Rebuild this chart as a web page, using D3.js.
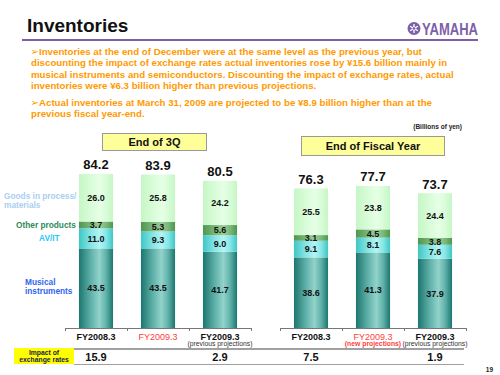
<!DOCTYPE html>
<html>
<head>
<meta charset="utf-8">
<script src="https://cdn.jsdelivr.net/npm/d3@7"></script>
<style>
  body { margin: 0; background: #fff; }
  svg { display: block; font-family: "Liberation Sans", Arial, sans-serif; }
</style>
</head>
<body>
<div id="chart"></div>
<script>
// ---- data ----
const categories = ["FY2008.3", "FY2009.3", "FY2009.3"]
const subLabels3Q = ["", "", "(previous projections)"]
const subLabelsFY = ["", "(new projections)", "(previous projections)"]
const labelRed = [false, true, false]

const musical3Q = [43.5, 43.5, 41.7]
const avit3Q = [11.0, 9.3, 9.0]
const other3Q = [3.7, 5.3, 5.6]
const goods3Q = [26.0, 25.8, 24.2]
const totals3Q = [84.2, 83.9, 80.5]

const musicalFY = [38.6, 41.3, 37.9]
const avitFY = [9.1, 8.1, 7.6]
const otherFY = [3.1, 4.5, 3.8]
const goodsFY = [25.5, 23.8, 24.4]
const totalsFY = [76.3, 77.7, 73.7]

const impact3Q = [15.9, null, 2.9]
const impactFY = [7.5, null, 1.9]

const seriesKeys = ["musical", "avit", "other", "goods"]

const para1 = [
  "Inventories at the end of December were at the same level as the previous year, but",
  "discounting the impact of exchange rates actual inventories rose by \u00a515.6 billion mainly in",
  "musical instruments and semiconductors. Discounting the impact of exchange rates, actual",
  "inventories were \u00a56.3 billion higher than previous projections."
]
const para2 = [
  "Actual inventories at March 31, 2009 are projected to be \u00a58.9 billion higher than at the",
  "previous fiscal year-end."
]

const width = 500
const height = 375

const svg = d3.select("#chart")
  .append("svg")
    .attr("width", width)
    .attr("height", height)

// gradients for the cylinder look
const defs = svg.append("defs")
const gradStops = {
  musical: ["#1c766f", "#5fb1a9", "#92d3cb", "#5fb1a9", "#1c766f"],
  avit: ["#3fc6c6", "#86e6e6", "#b2f4f4", "#86e6e6", "#3fc6c6"],
  other: ["#4f9650", "#79b879", "#9acd98", "#79b879", "#4f9650"],
  goods: ["#c6f6c6", "#d8fcd8", "#e6ffe6", "#d8fcd8", "#c6f6c6"],
}
Object.entries(gradStops).forEach(([key, cols]) => {
  const g = defs.append("linearGradient")
    .attr("id", "grad-" + key)
    .attr("x1", "0%").attr("x2", "100%")
    .attr("y1", "0%").attr("y2", "0%")
  const offs = [0, 0.35, 0.6, 0.8, 1]
  cols.forEach((c, i) => {
    g.append("stop").attr("offset", offs[i]).attr("stop-color", c)
  })
})

// ---- header ----
svg.append("text")
  .attr("x", 27)
  .attr("y", 32)
  .attr("font-size", 19)
  .attr("font-weight", "bold")
  .attr("fill", "#111")
  .text("Inventories")

svg.append("line")
  .attr("x1", 22).attr("x2", 478)
  .attr("y1", 40).attr("y2", 40)
  .attr("stroke", "#7d5fa8")
  .attr("stroke-width", 2)

// yamaha logo
const logo = svg.append("g").attr("transform", "translate(414, 28.5)")
logo.append("circle").attr("r", 6.5).attr("fill", "#7d5fa8")
d3.range(3).forEach(i => {
  logo.append("line")
    .attr("x1", 0).attr("y1", -4.5).attr("x2", 0).attr("y2", 4.5)
    .attr("stroke", "#fff").attr("stroke-width", 1.3)
    .attr("transform", `rotate(${i * 60})`)
})
logo.append("circle").attr("r", 1.8).attr("fill", "#7d5fa8").attr("stroke", "#fff").attr("stroke-width", 0.8)
svg.append("text")
  .attr("x", 422)
  .attr("y", 35)
  .attr("font-size", 16)
  .attr("font-weight", "bold")
  .attr("fill", "#7d5fa8")
  .attr("textLength", 56)
  .attr("lengthAdjust", "spacingAndGlyphs")
  .text("YAMAHA")

// ---- bullets ----
const orange = "#ff9a00"
const drawPara = (lines, y0) => {
  lines.forEach((line, i) => {
    svg.append("text")
      .attr("x", i === 0 ? 39 : 31)
      .attr("y", y0 + i * 11.5)
      .attr("font-size", 9.7)
      .attr("font-weight", "bold")
      .attr("fill", orange)
      .text(line)
  })
  svg.append("text")
    .attr("x", 30.5)
    .attr("y", y0 + 0.5)
    .attr("font-size", 10)
    .attr("font-family", "DejaVu Sans")
    .attr("fill", orange)
    .text("\u27a2")
}
drawPara(para1, 54.5)
drawPara(para2, 105.5)

svg.append("text")
  .attr("x", 462)
  .attr("y", 129)
  .attr("text-anchor", "end")
  .attr("font-size", 6.5)
  .attr("font-weight", "bold")
  .attr("fill", "#222")
  .text("(Billions of yen)")

// ---- shared y scale ----
const yScale = d3.scaleLinear()
  .domain([0, 90])
  .range([328, 328 - 90 * 1.829])

const drawPanel = (opts) => {
  const { x0, x1, data, totals, subs, title, box } = opts
  const xScale = d3.scaleBand()
    .domain(d3.range(3))
    .range([x0, x1])
    .paddingInner(0.45)
    .paddingOuter(0.225)

  const stack = d3.stack().keys(seriesKeys)(data)
  const g = svg.append("g")

  stack.forEach(layer => {
    g.selectAll(null)
      .data(layer)
      .join("rect")
        .attr("x", (d, i) => xScale(i))
        .attr("width", xScale.bandwidth())
        .attr("y", d => yScale(d[1]))
        .attr("height", d => yScale(d[0]) - yScale(d[1]))
        .attr("fill", `url(#grad-${layer.key})`)
    g.selectAll(null)
      .data(layer)
      .join("text")
        .attr("x", (d, i) => xScale(i) + xScale.bandwidth() / 2)
        .attr("y", d => (yScale(d[0]) + yScale(d[1])) / 2 + 3.2)
        .attr("text-anchor", "middle")
        .attr("font-size", 9)
        .attr("font-weight", "bold")
        .attr("fill", "#111")
        .text(d => d.data[layer.key].toFixed(1))
  })

  g.selectAll(null)
    .data(totals)
    .join("text")
      .attr("x", (d, i) => xScale(i) + xScale.bandwidth() / 2)
      .attr("y", d => yScale(d) - 4.5)
      .attr("text-anchor", "middle")
      .attr("font-size", 13)
      .attr("font-weight", "bold")
      .attr("fill", "#111")
      .text(d => d.toFixed(1))

  // axis with ticks at band edges
  const edgeScale = d3.scaleLinear().domain([0, 3]).range([x0, x1])
  const axis = g.append("g")
    .attr("transform", "translate(0, 328)")
    .call(d3.axisBottom(edgeScale).tickValues([0, 1, 2, 3]).tickFormat("").tickSize(3).tickSizeOuter(3))
  axis.selectAll("path, line").attr("stroke", "#777")

  categories.forEach((c, i) => {
    const cx = xScale(i) + xScale.bandwidth() / 2
    g.append("text")
      .attr("x", cx)
      .attr("y", 339.5)
      .attr("text-anchor", "middle")
      .attr("font-size", 9)
      .attr("font-weight", labelRed[i] ? "normal" : "bold")
      .attr("fill", labelRed[i] ? "#ff4040" : "#111")
      .text(c)
    if (subs[i]) {
      g.append("text")
        .attr("x", cx)
        .attr("y", 346)
        .attr("text-anchor", "middle")
        .attr("font-size", 6.8)
        .attr("font-weight", labelRed[i] ? "bold" : "normal")
        .attr("fill", labelRed[i] ? "#ff4040" : "#333")
        .text(subs[i])
    }
  })

  // title box
  svg.append("rect")
    .attr("x", box[0]).attr("y", box[1])
    .attr("width", box[2]).attr("height", box[3])
    .attr("fill", "#ffff99")
    .attr("stroke", "#999")
    .attr("stroke-width", 1)
  svg.append("text")
    .attr("x", box[0] + box[2] / 2)
    .attr("y", box[1] + box[3] / 2 + 4)
    .attr("text-anchor", "middle")
    .attr("font-size", 11)
    .attr("font-weight", "bold")
    .attr("fill", "#111")
    .text(title)

  return xScale
}

const rows = (m, a, o, gd) => m.map((d, i) => ({ musical: d, avit: a[i], other: o[i], goods: gd[i] }))

const x3Q = drawPanel({
  x0: 65, x1: 251,
  data: rows(musical3Q, avit3Q, other3Q, goods3Q),
  totals: totals3Q,
  subs: subLabels3Q,
  title: "End of 3Q",
  box: [102.5, 133.5, 104, 17],
})
const xFY = drawPanel({
  x0: 280, x1: 466,
  data: rows(musicalFY, avitFY, otherFY, goodsFY),
  totals: totalsFY,
  subs: subLabelsFY,
  title: "End of Fiscal Year",
  box: [301.5, 136.5, 143, 19],
})

// ---- legend labels ----
const legend = [
  { lines: ["Goods in process/", "materials"], x: 4, y: 198.5, color: "#a9cff0" },
  { lines: ["Other products"], x: 16, y: 227.5, color: "#2f8a58" },
  { lines: ["AV/IT"], x: 39, y: 240.5, color: "#2cc6f5" },
  { lines: ["Musical", "instruments"], x: 25, y: 284.5, color: "#2f66f0" },
]
legend.forEach(l => {
  l.lines.forEach((t, i) => {
    svg.append("text")
      .attr("x", l.x)
      .attr("y", l.y + i * 9.5)
      .attr("font-size", 8.3)
      .attr("font-weight", "bold")
      .attr("fill", l.color)
      .text(t)
  })
})

// ---- impact of exchange rates row ----
svg.append("rect")
  .attr("x", 14).attr("y", 348)
  .attr("width", 60).attr("height", 16)
  .attr("fill", "#ffff00")
svg.append("text")
  .attr("x", 44).attr("y", 354.5)
  .attr("text-anchor", "middle")
  .attr("font-size", 6.8)
  .attr("font-weight", "bold")
  .attr("fill", "#1a1a50")
  .text("Impact of")
svg.append("text")
  .attr("x", 44).attr("y", 362)
  .attr("text-anchor", "middle")
  .attr("font-size", 6.8)
  .attr("font-weight", "bold")
  .attr("fill", "#1a1a50")
  .text("exchange rates")
svg.append("line")
  .attr("x1", 74).attr("x2", 464)
  .attr("y1", 349).attr("y2", 349)
  .attr("stroke", "#a0a0a0").attr("stroke-width", 2)
svg.append("line")
  .attr("x1", 74).attr("x2", 464)
  .attr("y1", 364.5).attr("y2", 364.5)
  .attr("stroke", "#a0a0a0").attr("stroke-width", 1)

const drawImpact = (vals, xScale) => {
  vals.forEach((v, i) => {
    if (v === null) return
    svg.append("text")
      .attr("x", xScale(i) + xScale.bandwidth() / 2)
      .attr("y", 361)
      .attr("text-anchor", "middle")
      .attr("font-size", 11)
      .attr("font-weight", "bold")
      .attr("fill", "#111")
      .text(v.toFixed(1))
  })
}
drawImpact(impact3Q, x3Q)
drawImpact(impactFY, xFY)

svg.append("text")
  .attr("x", 493).attr("y", 372)
  .attr("text-anchor", "end")
  .attr("font-size", 6.5)
  .attr("font-weight", "bold")
  .attr("fill", "#222")
  .text("19")
</script>
</body>
</html>
